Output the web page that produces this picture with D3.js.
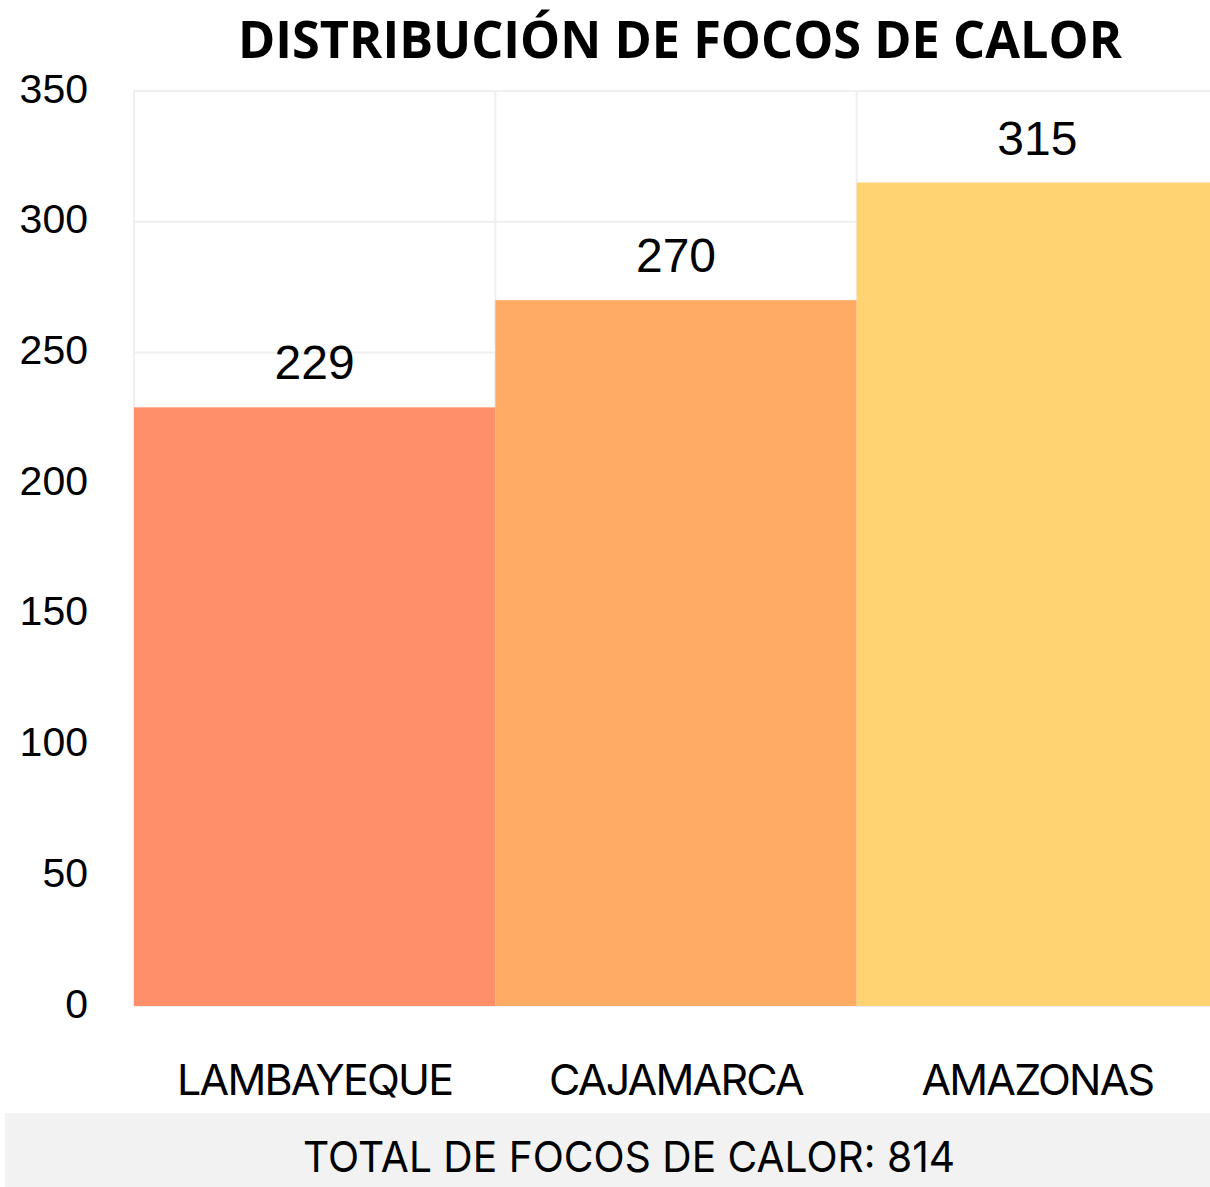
<!DOCTYPE html>
<html>
<head>
<meta charset="utf-8">
<script src="https://cdn.jsdelivr.net/npm/d3@7"></script>
<style>
  html, body { margin: 0; padding: 0; background: #fff; }
</style>
</head>
<body>
<script>
(function() {
  'use strict';

  var regions = ["LAMBAYEQUE", "CAJAMARCA", "AMAZONAS"],
      focos   = [229, 270, 315],
      colores = ["#FF8F6B", "#FFAB63", "#FFD372"],
      yTicks  = [0, 50, 100, 150, 200, 250, 300, 350],
      titulo  = "DISTRIBUCIÓN DE FOCOS DE CALOR",
      total   = "TOTAL DE FOCOS DE CALOR: " + d3.sum(focos);

  var width = 1210, height = 1187,
      margin = {left: 134, right: -8, top: 91, bottom: 181};

  var svg = d3.select("body").append("svg")
      .attr("width", width)
      .attr("height", height);

  var x = d3.scaleBand()
      .domain(regions)
      .range([margin.left, width - margin.right])
      .padding(0);

  var y = d3.scaleLinear()
      .domain([0, 350])
      .range([height - margin.bottom, margin.top]);

  // grid
  svg.append("g").selectAll("line").data(yTicks).enter()
     .append("line")
     .attr("x1", margin.left).attr("x2", width)
     .attr("y1", function(d) { return y(d); })
     .attr("y2", function(d) { return y(d); })
     .attr("stroke", "#efefef")
     .attr("stroke-width", 2);

  svg.append("g").selectAll("line").data(regions).enter()
     .append("line")
     .attr("x1", function(d) { return x(d); })
     .attr("x2", function(d) { return x(d); })
     .attr("y1", y(350)).attr("y2", y(0))
     .attr("stroke", "#efefef")
     .attr("stroke-width", 2);

  // bars
  svg.append("g").selectAll("rect").data(focos).enter()
     .append("rect")
     .attr("x", function(d, i) { return x(regions[i]); })
     .attr("width", x.bandwidth())
     .attr("y", function(d) { return y(d); })
     .attr("height", function(d) { return y(0) - y(d); })
     .attr("fill", function(d, i) { return colores[i]; });

  // value labels
  svg.append("g").selectAll("text").data(focos).enter()
     .append("text")
     .attr("x", function(d, i) { return x(regions[i]) + x.bandwidth() / 2; })
     .attr("y", function(d) { return y(d) - 28; })
     .attr("text-anchor", "middle")
     .attr("font-family", "Liberation Sans, Arial, sans-serif")
     .attr("font-size", 48)
     .attr("fill", "#000")
     .text(function(d) { return d; });

  // y axis
  var yAxis = svg.append("g")
      .attr("transform", "translate(88,0)")
      .call(d3.axisLeft(y).tickValues(yTicks).tickSize(0).tickPadding(0));
  yAxis.select(".domain").remove();
  yAxis.selectAll("text")
      .attr("font-family", "Liberation Sans, Arial, sans-serif")
      .attr("font-size", 41)
      .attr("fill", "#000")
      .attr("dy", "0.27em");

  // category labels
  var xAxis = svg.append("g")
      .attr("transform", "translate(0," + 1095 + ")")
      .call(d3.axisBottom(x).tickSize(0).tickPadding(0));
  xAxis.select(".domain").remove();
  xAxis.selectAll("text")
      .attr("y", 0)
      .attr("dy", 0)
      .attr("font-family", "Inter, Roboto, sans-serif")
      .attr("font-size", 43)
      .attr("letter-spacing", -1.8)
      .attr("fill", "#000");

  // title
  svg.append("text")
     .attr("x", 680)
     .attr("y", 58)
     .attr("text-anchor", "middle")
     .attr("font-family", "Open Sans, sans-serif")
     .attr("font-weight", 700)
     .attr("font-size", 52)
     .attr("textLength", 884)
     .attr("lengthAdjust", "spacingAndGlyphs")
     .attr("fill", "#000")
     .text(titulo);

  // total band
  svg.append("rect")
     .attr("x", 5).attr("y", 1113)
     .attr("width", width - 5).attr("height", 74)
     .attr("fill", "#f2f2f2");

  svg.append("text")
     .attr("x", 629)
     .attr("y", 1172)
     .attr("text-anchor", "middle")
     .attr("font-family", "Inter, Roboto, sans-serif")
     .attr("font-size", 43)
     .attr("textLength", 652)
     .attr("lengthAdjust", "spacingAndGlyphs")
     .attr("fill", "#000")
     .text(total);

})();
</script>
</body>
</html>
